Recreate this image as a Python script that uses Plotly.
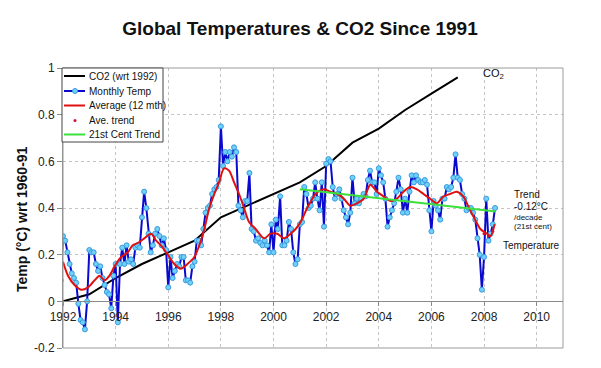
import plotly.graph_objects as go

# ---------------- data ----------------
co2_years = [1992, 1993, 1994, 1995, 1996, 1997, 1998, 1999, 2000, 2001, 2002, 2003, 2004, 2005, 2006, 2007]
co2_values = [0.00, 0.03, 0.10, 0.16, 0.21, 0.26, 0.36, 0.41, 0.46, 0.51, 0.58, 0.68, 0.74, 0.82, 0.89, 0.96]

temp_start = 1991 + 11 / 12  # first monthly point (plotted position)
monthly_temp = [
    # 1992
    0.09, 0.28, 0.26, 0.21, 0.16, 0.12, 0.10, 0.08, -0.01, -0.08, -0.09, -0.12,
    # 1993
    0.00, 0.22, 0.21, 0.21, 0.16, 0.13, 0.15, 0.10, 0.07, 0.04, 0.03, -0.03,
    # 1994
    0.11, 0.16, -0.09, 0.16, 0.23, 0.16, 0.24, 0.17, 0.18, 0.16, 0.23, 0.24,
    # 1995
    0.23, 0.36, 0.47, 0.40, 0.29, 0.21, 0.24, 0.29, 0.31, 0.28, 0.24, 0.27,
    # 1996
    0.22, 0.06, 0.19, 0.10, 0.13, 0.16, 0.15, 0.19, 0.19, 0.09, 0.09, 0.08,
    # 1997
    0.15, 0.17, 0.26, 0.26, 0.24, 0.31, 0.38, 0.40, 0.41, 0.46, 0.48, 0.49,
    # 1998
    0.52, 0.75, 0.58, 0.64, 0.60, 0.64, 0.62, 0.66, 0.64, 0.41, 0.39, 0.36,
    # 1999
    0.43, 0.43, 0.55, 0.31, 0.30, 0.26, 0.27, 0.25, 0.24, 0.26, 0.24, 0.21,
    # 2000
    0.33, 0.21, 0.35, 0.31, 0.45, 0.24, 0.24, 0.26, 0.34, 0.31, 0.21, 0.16,
    # 2001
    0.18, 0.33, 0.34, 0.49, 0.46, 0.40, 0.41, 0.44, 0.51, 0.44, 0.39, 0.51,
    # 2002
    0.32, 0.59, 0.61, 0.60, 0.49, 0.44, 0.46, 0.48, 0.44, 0.39, 0.36, 0.33,
    # 2003
    0.38, 0.53, 0.42, 0.44, 0.42, 0.44, 0.46, 0.45, 0.52, 0.56, 0.51, 0.51,
    # 2004
    0.46, 0.57, 0.54, 0.51, 0.44, 0.32, 0.36, 0.39, 0.42, 0.47, 0.53, 0.48,
    # 2005
    0.38, 0.44, 0.38, 0.47, 0.54, 0.51, 0.54, 0.52, 0.51, 0.51, 0.52, 0.50,
    # 2006
    0.39, 0.30, 0.43, 0.41, 0.39, 0.35, 0.44, 0.44, 0.49, 0.48, 0.49, 0.53,
    # 2007
    0.63, 0.53, 0.52, 0.46, 0.44, 0.39, 0.40, 0.40, 0.38, 0.35, 0.27, 0.20,
    # 2008
    0.05, 0.19, 0.44, 0.26, 0.29, 0.33, 0.40,
]

avg_x = [1992.0, 1992.19, 1992.44, 1992.69, 1992.95, 1993.2, 1993.39, 1993.58, 1993.77, 1993.96,
         1994.21, 1994.46, 1994.65, 1994.84, 1995.09, 1995.35, 1995.54, 1995.72, 1995.98, 1996.23,
         1996.48, 1996.73, 1996.99, 1997.18, 1997.37, 1997.56, 1997.75, 1997.93, 1998.12, 1998.31,
         1998.5, 1998.69, 1998.88, 1999.07, 1999.32, 1999.64, 1999.89, 2000.14, 2000.4, 2000.65,
         2000.84, 2001.03, 2001.28, 2001.6, 2001.91, 2002.16, 2002.42, 2002.67, 2002.92, 2003.17,
         2003.43, 2003.68, 2003.93, 2004.18, 2004.44, 2004.69, 2004.94, 2005.19, 2005.45, 2005.7,
         2005.95, 2006.2, 2006.46, 2006.71, 2006.96, 2007.21, 2007.47, 2007.66, 2007.86, 2008.11,
         2008.25, 2008.4]
avg_values = [0.17, 0.11, 0.07, 0.05, 0.06, 0.09, 0.11, 0.09, 0.11, 0.15,
              0.19, 0.21, 0.24, 0.25, 0.27, 0.29, 0.26, 0.24, 0.20, 0.16,
              0.14, 0.16, 0.19, 0.24, 0.31, 0.40, 0.46, 0.51, 0.57, 0.56,
              0.51, 0.46, 0.40, 0.34, 0.31, 0.27, 0.29, 0.29, 0.27, 0.29,
              0.31, 0.34, 0.40, 0.46, 0.48, 0.47, 0.46, 0.44, 0.41, 0.42,
              0.44, 0.50, 0.47, 0.45, 0.43, 0.44, 0.47, 0.49, 0.48, 0.46,
              0.44, 0.42, 0.45, 0.46, 0.47, 0.45, 0.39, 0.35, 0.31, 0.29,
              0.28, 0.33]

ave_trend_x = [2008.0, 2008.17, 2008.33]
ave_trend_values = [0.29, 0.28, 0.30]

cent_trend_x = [2001.0, 2008.45]
cent_trend_values = [0.48, 0.385]

x_ticks = [1992, 1994, 1996, 1998, 2000, 2002, 2004, 2006, 2008, 2010]
y_ticks = [-0.2, 0, 0.2, 0.4, 0.6, 0.8, 1.0]
y_tick_labels = ["-0.2", "0", "0.2", "0.4", "0.6", "0.8", "1"]

temp_x = [temp_start + i / 12 for i in range(len(monthly_temp))]

FONT = "Liberation Sans, Arial, sans-serif"
TXT = "#111111"

fig = go.Figure()
fig.add_trace(go.Scatter(x=co2_years, y=co2_values, mode="lines", name="CO2 (wrt 1992)",
                         line=dict(color="#000000", width=2)))
fig.add_trace(go.Scatter(x=temp_x, y=monthly_temp, mode="lines+markers", name="Monthly Temp",
                         line=dict(color="#0A0ACF", width=2),
                         marker=dict(size=5, color="#6FD0F8", line=dict(color="#3A9BE0", width=1))))
fig.add_trace(go.Scatter(x=avg_x, y=avg_values, mode="lines", name="Average (12 mth)",
                         line=dict(color="#E01010", width=2, shape="spline", smoothing=0.8)))
fig.add_trace(go.Scatter(x=ave_trend_x, y=ave_trend_values, mode="markers", name="Ave. trend",
                         marker=dict(size=3, color="#D01030")))
fig.add_trace(go.Scatter(x=cent_trend_x, y=cent_trend_values, mode="lines", name="21st Cent Trend",
                         line=dict(color="#3CE03C", width=2)))

# The page body has an 8px margin: the figure is drawn 8px right/down, so size it to fit.
OFF = 8
W, H = 601 - OFF, 368 - 2 * OFF
# plot area in reference (window) pixels
PL, PR, PT, PB = 63, 563, 68, 348
L, R, T, B = PL - OFF, W - (PR - OFF), PT - OFF, H - (PB - OFF)


def px(xpix):
    """window x pixel -> paper fraction"""
    return (xpix - PL) / (PR - PL)


def py(ypix):
    """window y pixel -> paper fraction"""
    return (PB - ypix) / (PB - PT)


fig.update_layout(
    width=W, height=H,
    margin=dict(l=L, r=R, t=T, b=B, autoexpand=False),
    paper_bgcolor="white", plot_bgcolor="white",
    showlegend=False,
    font=dict(family=FONT, color=TXT),
    title=dict(text="Global Temperatures & CO2 Since 1991", x=(300 - OFF) / W, xanchor="center",
               y=1 - (28 - OFF) / H, yanchor="middle",
               font=dict(size=19, family=FONT, color=TXT, weight="bold")),
    xaxis=dict(range=[1992, 2011], tickvals=x_ticks, ticktext=[str(v) for v in x_ticks],
               anchor="free", position=0.2 / 1.2, showline=True, linecolor="#8a8a8a", linewidth=1,
               ticks="outside", ticklen=4, tickcolor="#8a8a8a",
               showgrid=True, gridcolor="#c4c4c4", griddash="dot", gridwidth=1,
               zeroline=False, tickfont=dict(size=12, color="#222")),
    yaxis=dict(range=[-0.2, 1.0], tickvals=y_ticks, ticktext=y_tick_labels,
               showline=True, linecolor="#8a8a8a", linewidth=1,
               ticks="outside", ticklen=5, tickcolor="#8a8a8a",
               showgrid=True, gridcolor="#c4c4c4", griddash="dot", gridwidth=1,
               zeroline=False, tickfont=dict(size=12, color="#222")),
)

shapes = [dict(type="rect", xref="paper", yref="paper", x0=0, x1=1, y0=0, y1=1,
               line=dict(color="#9a9a9a", width=1), layer="above")]

# manual legend
leg_left, leg_right, leg_top, leg_bottom = 62, 163, 68, 142
shapes.append(dict(type="rect", xref="paper", yref="paper", x0=px(leg_left), x1=px(leg_right),
                   y0=py(leg_bottom), y1=py(leg_top), line=dict(color="#444", width=1),
                   fillcolor="white", layer="above"))
leg_items = [
    ("CO2 (wrt 1992)", "#000000", "line"),
    ("Monthly Temp", "#0A0ACF", "linemarker"),
    ("Average (12 mth)", "#E01010", "line"),
    ("Ave. trend", "#D01030", "dot"),
    ("21st Cent Trend", "#3CE03C", "line"),
]
leg_rows = [76, 91, 105.5, 120.5, 134.5]
annotations = []
for (label, color, kind), yr in zip(leg_items, leg_rows):
    if kind in ("line", "linemarker"):
        shapes.append(dict(type="line", xref="paper", yref="paper", x0=px(64), x1=px(85),
                           y0=py(yr), y1=py(yr), line=dict(color=color, width=2), layer="above"))
    if kind == "linemarker":
        shapes.append(dict(type="circle", xref="paper", yref="paper", x0=px(72.5), x1=px(77.5),
                           y0=py(yr + 2.5), y1=py(yr - 2.5), fillcolor="#6FD0F8",
                           line=dict(color="#3A9BE0", width=1), layer="above"))
    if kind == "dot":
        shapes.append(dict(type="circle", xref="paper", yref="paper", x0=px(73.5), x1=px(76.5),
                           y0=py(yr + 1.5), y1=py(yr - 1.5), fillcolor=color,
                           line=dict(color=color, width=0), layer="above"))
    annotations.append(dict(xref="paper", yref="paper", x=px(87), y=py(yr), text=label,
                            showarrow=False, xanchor="left", yanchor="middle",
                            font=dict(size=10, family=FONT, color=TXT)))

# axis title
annotations.append(dict(xref="paper", yref="paper", x=px(22), y=py(219),
                        text="Temp (°C) wrt 1960-91", textangle=-90, showarrow=False,
                        xanchor="center", yanchor="middle",
                        font=dict(size=14, family=FONT, color=TXT, weight="bold")))
# chart labels
annotations += [
    dict(x=2007.9, y=0.973, text="CO<sub>2</sub>", showarrow=False, xanchor="left", yanchor="middle",
         font=dict(size=11, family=FONT, color=TXT)),
    dict(x=2009.05, y=0.46, text="Trend", showarrow=False, xanchor="left", yanchor="middle",
         font=dict(size=10, family=FONT, color=TXT)),
    dict(x=2009.05, y=0.406, text="-0.12°C", showarrow=False, xanchor="left", yanchor="middle",
         font=dict(size=10, family=FONT, color=TXT)),
    dict(x=2009.05, y=0.36, text="/decade", showarrow=False, xanchor="left", yanchor="middle",
         font=dict(size=8, family=FONT, color=TXT)),
    dict(x=2009.05, y=0.322, text="(21st cent)", showarrow=False, xanchor="left", yanchor="middle",
         font=dict(size=8, family=FONT, color=TXT)),
    dict(x=2008.65, y=0.241, text="Temperature", showarrow=False, xanchor="left", yanchor="middle",
         bgcolor="white", font=dict(size=10, family=FONT, color=TXT)),
]

fig.update_layout(shapes=shapes, annotations=annotations)
fig.write_html("out.html")
